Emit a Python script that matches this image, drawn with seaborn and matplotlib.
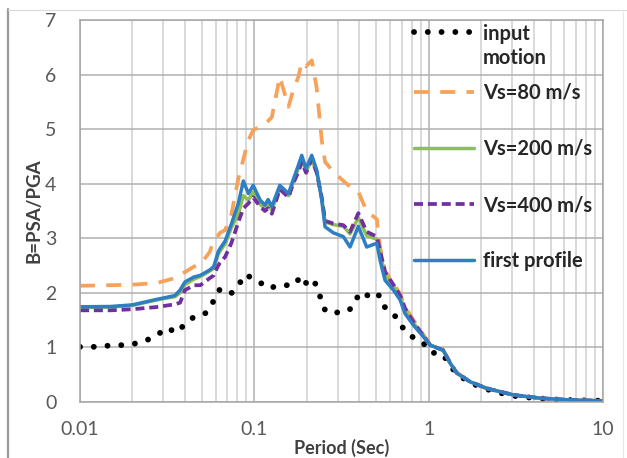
import numpy as np
import matplotlib
matplotlib.use("Agg")
import matplotlib.pyplot as plt
import seaborn as sns
from matplotlib.legend_handler import HandlerLine2D
from matplotlib.lines import Line2D

# ---------------- data ----------------
input_period = [0.01, 0.01192, 0.01423, 0.01696, 0.02006, 0.02369, 0.02754, 0.03144,
                0.03587, 0.04004, 0.04508, 0.05214, 0.05697, 0.0603, 0.06416, 0.0742,
                0.08204, 0.08927, 0.09869, 0.1103, 0.1231, 0.1332, 0.1451, 0.1694,
                0.1853, 0.1993, 0.2181, 0.232, 0.243, 0.2562, 0.3001, 0.3508, 0.3783,
                0.4165, 0.4611, 0.5146, 0.5381, 0.6006, 0.6703, 0.7226, 0.8171, 0.9253,
                1.028, 1.214, 1.297, 1.436, 1.654, 1.928, 2.23, 2.627, 3.131, 3.818,
                4.551, 5.433, 6.476, 7.72, 9.214, 10.0]
input_motion = [1.01, 1.01, 1.03, 1.04, 1.06, 1.12, 1.22, 1.36,
                1.27, 1.43, 1.56, 1.62, 1.77, 1.98, 2.08, 2.00,
                2.17, 2.34, 2.25, 2.17, 2.08, 2.13, 2.14, 2.14,
                2.31, 2.17, 2.25, 2.05, 1.85, 1.66, 1.64, 1.68, 1.87,
                2.02, 1.92, 1.98, 1.78, 1.67, 1.51, 1.32, 1.18, 1.09,
                0.91, 0.87, 0.71, 0.53, 0.39, 0.29, 0.22, 0.16, 0.11, 0.08,
                0.06, 0.045, 0.035, 0.03, 0.025, 0.02]

period = [0.01, 0.015, 0.02, 0.0275, 0.035, 0.0375, 0.04, 0.045, 0.049, 0.0555,
          0.0585, 0.062, 0.0635, 0.068, 0.074, 0.081, 0.0865, 0.0925, 0.0985, 0.108,
          0.115, 0.12, 0.126, 0.14, 0.157, 0.167, 0.179, 0.187, 0.198, 0.2135,
          0.228, 0.2435, 0.2545, 0.284, 0.324, 0.354, 0.395, 0.441, 0.504, 0.526,
          0.562, 0.628, 0.686, 0.732, 0.817, 0.93, 1.02, 1.21, 1.33, 1.45,
          1.73, 2.15, 3.06, 4.36, 6.2, 10.0]
vs80 = [2.13, 2.14, 2.15, 2.18, 2.27, 2.33, 2.38, 2.48, 2.52, 2.75,
        2.97, 3.05, 3.10, 3.15, 3.45, 4.10, 4.45, 4.80, 4.98, 5.05,
        5.10, 5.15, 5.22, 5.96, 5.41, 5.71, 5.96, 6.23, 6.15, 6.26,
        5.75, 4.80, 4.40, 4.22, 4.05, 3.95, 3.85, 3.50, 3.35, 2.85,
        2.40, 2.18, 1.98, 1.75, 1.50, 1.24, 1.05, 0.96, 0.72, 0.54,
        0.37, 0.25, 0.13, 0.07, 0.04, 0.02]
vs200 = [1.73, 1.74, 1.77, 1.87, 1.93, 2.00, 2.15, 2.25, 2.30, 2.40,
         2.45, 2.70, 2.76, 2.90, 3.20, 3.45, 3.78, 3.70, 3.85, 3.62,
         3.55, 3.62, 3.52, 3.92, 3.78, 4.02, 4.28, 4.45, 4.22, 4.45,
         4.20, 3.75, 3.30, 3.25, 3.22, 3.08, 3.38, 3.05, 2.98, 2.72,
         2.33, 2.12, 1.93, 1.68, 1.45, 1.22, 1.05, 0.95, 0.71, 0.53,
         0.37, 0.25, 0.13, 0.07, 0.04, 0.02]
vs400 = [1.68, 1.68, 1.70, 1.74, 1.79, 1.82, 2.05, 2.14, 2.14, 2.27,
         2.32, 2.50, 2.55, 2.66, 2.92, 3.30, 3.55, 3.64, 3.75, 3.58,
         3.50, 3.55, 3.45, 3.90, 3.75, 4.00, 4.22, 4.40, 4.20, 4.45,
         4.20, 3.75, 3.32, 3.27, 3.24, 3.12, 3.46, 3.12, 3.03, 2.78,
         2.38, 2.15, 1.95, 1.72, 1.47, 1.22, 1.04, 0.95, 0.71, 0.53,
         0.37, 0.25, 0.13, 0.07, 0.04, 0.02]
first_profile = [1.745, 1.75, 1.78, 1.88, 1.95, 2.05, 2.20, 2.29, 2.32, 2.42,
                 2.48, 2.75, 2.81, 2.95, 3.27, 3.64, 4.05, 3.82, 3.97, 3.70,
                 3.61, 3.71, 3.58, 3.97, 3.82, 4.07, 4.34, 4.52, 4.28, 4.52,
                 4.25, 3.70, 3.21, 3.10, 3.03, 2.84, 3.22, 2.84, 2.91, 2.60,
                 2.23, 2.05, 1.87, 1.62, 1.41, 1.20, 1.04, 0.95, 0.71, 0.53,
                 0.37, 0.25, 0.13, 0.07, 0.04, 0.02]

labels = ["input\nmotion", "Vs=80 m/s", "Vs=200 m/s", "Vs=400 m/s", "first profile"]
xticks = [0.01, 0.1, 1, 10]
xtick_labels = ["0.01", "0.1", "1", "10"]
yticks = [0, 1, 2, 3, 4, 5, 6, 7]

# ---------------- style ----------------
sns.set_theme(style="white")
plt.rcParams["font.family"] = ["Lato", "DejaVu Sans"]

W, H = 627, 458
fig = plt.figure(figsize=(W / 100, H / 100), dpi=100)
ax = fig.add_axes([80 / W, 1 - 402 / H, (603 - 80) / W, (402 - 20) / H])
ax.set_xscale("log")

c_in, c_80, c_200, c_400, c_fp = "#000000", "#F7A25A", "#8CC152", "#7030A0", "#2E7EC3"

sns.lineplot(x=input_period, y=input_motion, ax=ax, color=c_in, linewidth=4.2,
             linestyle=(0, (0.01, 2.35)), dash_capstyle="round", sort=False)
l_in = ax.lines[-1]
sns.lineplot(x=period, y=vs80, ax=ax, color=c_80, linewidth=2.7,
             linestyle=(0, (4.0, 3.0)), sort=False)
l_80 = ax.lines[-1]
sns.lineplot(x=period, y=vs200, ax=ax, color=c_200, linewidth=2.5, sort=False)
l_200 = ax.lines[-1]
sns.lineplot(x=period, y=vs400, ax=ax, color=c_400, linewidth=2.7,
             linestyle=(0, (2.4, 1.3)), sort=False)
l_400 = ax.lines[-1]
sns.lineplot(x=period, y=first_profile, ax=ax, color=c_fp, linewidth=2.5, sort=False)
l_fp = ax.lines[-1]

ax.set_xlim(0.01, 10)
ax.set_ylim(0, 7)
ax.set_xticks(xticks)
ax.set_xticklabels(xtick_labels)
ax.set_yticks(yticks)
ax.xaxis.set_minor_locator(matplotlib.ticker.LogLocator(base=10, subs=np.arange(2, 10)))
ax.xaxis.set_minor_formatter(matplotlib.ticker.NullFormatter())
ax.grid(which="major", color="#B0B0B0", linewidth=1.1)
ax.grid(which="minor", axis="x", color="#CFCFCF", linewidth=1.1)
ax.set_axisbelow(True)
for s in ax.spines.values():
    s.set_color("#A6A6A6")
    s.set_linewidth(1.1)
ax.tick_params(which="both", length=0, labelsize=14, labelcolor="#595959")
ax.tick_params(axis="x", pad=14)
ax.tick_params(axis="y", pad=17)

ax.set_xlabel("Period (Sec)", fontsize=13, fontweight="bold", color="#404040", labelpad=0)
ax.set_ylabel("B=PSA/PGA", fontsize=13.5, fontweight="bold", color="#404040", labelpad=2)


class UpHandler(HandlerLine2D):
    def __init__(self, shift, **kw):
        super().__init__(**kw)
        self.shift = shift

    def create_artists(self, legend, orig_handle, xdescent, ydescent, width, height,
                       fontsize, trans):
        arts = super().create_artists(legend, orig_handle, xdescent, ydescent, width,
                                      height, fontsize, trans)
        for a in arts:
            a.set_ydata(np.asarray(a.get_ydata()) + self.shift)
        return arts


# legends
leg_kw = dict(frameon=False, fontsize=14.5, handlelength=3.0, handletextpad=0.42,
              borderpad=0, borderaxespad=0, bbox_transform=fig.transFigure)
leg1 = ax.legend([l_in], [labels[0]], loc="center left",
                 bbox_to_anchor=(414 / W, 1 - 46 / H),
                 handler_map={l_in: UpHandler(shift=10.5)}, **leg_kw)
for t in leg1.get_texts():
    t.set_fontweight("bold")
    t.set_color("#262626")
    t.set_linespacing(1.2)
ax.add_artist(leg1)
leg2 = ax.legend([l_80, l_200, l_400, l_fp], labels[1:], loc="center left",
                 bbox_to_anchor=(414 / W, 1 - 177 / H), labelspacing=1.8, **leg_kw)
for t in leg2.get_texts():
    t.set_fontweight("bold")
    t.set_color("#262626")

# outer frame lines of the picture
fig.add_artist(Line2D([8 / W, 8 / W], [0, 1 - 9 / H], transform=fig.transFigure,
                      color="#9A9A9A", linewidth=1.6))
fig.add_artist(Line2D([8 / W, 1], [1 - 9.5 / H, 1 - 9.5 / H], transform=fig.transFigure,
                      color="#DADADA", linewidth=0.8))
fig.add_artist(Line2D([623 / W, 623 / W], [0, 1 - 12 / H], transform=fig.transFigure,
                      color="#E6E6E6", linewidth=0.8))

fig.savefig("out.png", dpi=100)
